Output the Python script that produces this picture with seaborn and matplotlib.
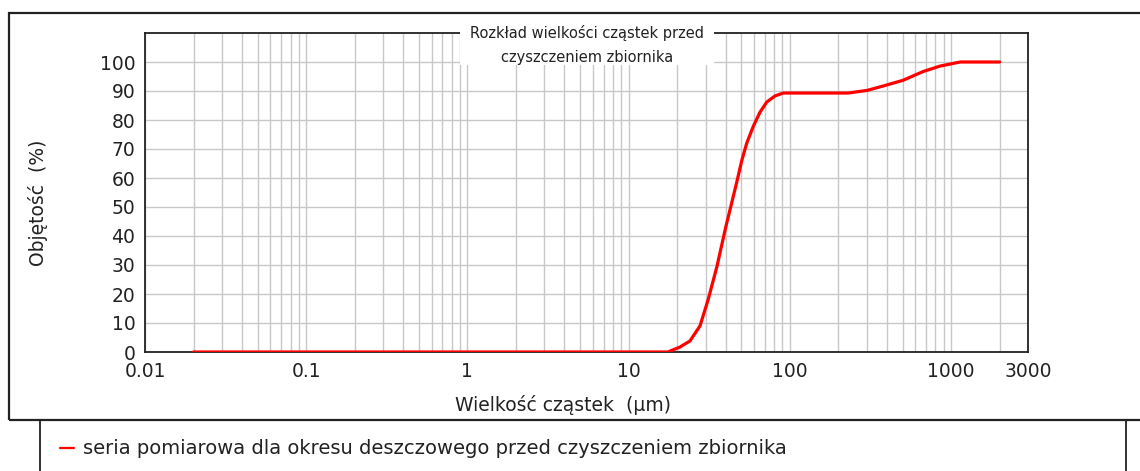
import pandas as pd
import matplotlib.pyplot as plt
import seaborn as sns
from matplotlib.patches import Rectangle
from matplotlib.lines import Line2D
from matplotlib.ticker import LogLocator, FixedLocator, FixedFormatter, NullFormatter

# Particle size distribution
size_um = [0.02, 17.5, 20.8, 24.0, 27.7, 31.1, 35.3, 39.8, 43.6, 46.8, 50.3,
           54.0, 59.5, 65.3, 71.9, 80.9, 91, 230, 301, 378, 504, 670, 855, 1140, 2000]
volume_pct = [0, 0, 1.7, 3.8, 9, 18, 29.5, 42.5, 51.5, 58.5, 66,
              72, 78, 82.7, 86.2, 88.3, 89.3, 89.3, 90.2, 91.7, 93.7, 96.7, 98.6, 100, 100]

x_ticks = [0.01, 0.1, 1, 10, 100, 1000, 3000]
x_tick_labels = ['0.01', '0.1', '1', '10', '100', '1000', '3000']
y_ticks = [0, 10, 20, 30, 40, 50, 60, 70, 80, 90, 100]

title = 'Rozkład wielkości cząstek przed\nczyszczeniem zbiornika'
x_label = 'Wielkość cząstek  (µm)'
y_label = 'Objętość  (%)'
series_name = 'seria pomiarowa dla okresu deszczowego przed czyszczeniem zbiornika'

df = pd.DataFrame({'size': size_um, 'volume': volume_pct})

sns.set_style('white')
plt.rcParams['font.family'] = ['DejaVu Sans']

W, H = 1140, 471
fig = plt.figure(figsize=(W / 100, H / 100), dpi=100)

# plot area in pixels: left 145, right 1028, top 33, bottom 352
ax = fig.add_axes([145 / W, 1 - 352 / H, (1028 - 145) / W, (352 - 33) / H])

sns.lineplot(data=df, x='size', y='volume', color='#ff0000', linewidth=2.3,
             estimator=None, sort=False, ax=ax, zorder=3)

ax.set_xscale('log')
ax.set_xlim(0.01, 3000)
ax.set_ylim(0, 110)

ax.xaxis.set_major_locator(FixedLocator(x_ticks))
ax.xaxis.set_major_formatter(FixedFormatter(x_tick_labels))
ax.xaxis.set_minor_locator(LogLocator(base=10, subs=range(2, 10), numticks=20))
ax.xaxis.set_minor_formatter(NullFormatter())
ax.set_yticks(y_ticks)

ax.grid(True, which='both', axis='x', color='#c8c8c8', linewidth=1.0)
ax.grid(True, which='major', axis='y', color='#c8c8c8', linewidth=1.0)
ax.tick_params(which='both', length=0, labelsize=13.5, colors='#222222')
ax.tick_params(axis='y', pad=7)
ax.tick_params(axis='x', pad=7.5)

for side in ['top', 'right', 'bottom', 'left']:
    ax.spines[side].set_color('#222222')
    ax.spines[side].set_linewidth(1.3)

ax.set_xlabel(x_label, fontsize=13.5, color='#222222')
ax.set_ylabel(y_label, fontsize=13.5, color='#222222')
ax.xaxis.set_label_coords((563 - 145) / (1028 - 145), -(395 - 352) / (352 - 33))
ax.yaxis.set_label_coords(-(145 - 48) / (1028 - 145), (352 - 203) / (352 - 33))

# outer chart frame and legend box
fig.patches.append(Rectangle((9 / W, 1 - 420 / H), (1160 - 9) / W, (420 - 13) / H,
                             transform=fig.transFigure, fill=False,
                             edgecolor='#222222', linewidth=1.6, zorder=5))
fig.lines.append(Line2D([40 / W, 40 / W], [0, 1 - 420 / H], transform=fig.transFigure,
                        color='#222222', linewidth=1.3))
fig.lines.append(Line2D([1126 / W, 1126 / W], [0, 1 - 420 / H], transform=fig.transFigure,
                        color='#222222', linewidth=1.3))
fig.lines.append(Line2D([60 / W, 74 / W], [1 - 448 / H, 1 - 448 / H], transform=fig.transFigure,
                        color='#ff0000', linewidth=1.6))
fig.text(83 / W, 1 - 448 / H, series_name, fontsize=14, color='#222222',
         ha='left', va='center')

# title box sitting on the top spine
fig.patches.append(Rectangle((460 / W, 1 - 65 / H), (714 - 460) / W, (65 - 22) / H,
                             transform=fig.transFigure, facecolor='white',
                             edgecolor='none', zorder=4))
fig.text(587 / W, 1 - 45 / H, title, fontsize=10.5, color='#222222',
         ha='center', va='center', linespacing=1.7, zorder=6)

fig.savefig('out.png', dpi=100)
